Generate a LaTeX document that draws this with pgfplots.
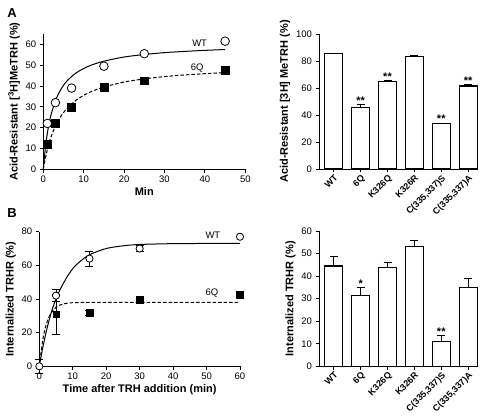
\documentclass[border=0pt]{standalone}
\usepackage{pgfplots}
\pgfplotsset{compat=1.18}
\usepackage{fontspec}
\setmainfont{Liberation Sans}
\pgfplotsset{gp/.style={scale only axis, anchor=south west,
  axis x line*=bottom, axis y line*=left,
  axis line style={line width=0.8pt,-},
  tick style={line width=0.8pt, black},
  tick align=outside, major tick length=3.5pt,
  tick label style={font=\fontsize{9.5}{10}\selectfont},
  label style={font=\bfseries\fontsize{11}{12}\selectfont},
  /pgf/number format/assume math mode=true, clip=false}}
\begin{document}
\begin{tikzpicture}[x=1pt,y=1pt]
\useasboundingbox (0,0) rectangle (480,417);
\node[font=\bfseries\fontsize{13}{14}\selectfont] at (12,404) {A};
\node[font=\bfseries\fontsize{13}{14}\selectfont] at (12,204) {B};

% Top-left
\begin{axis}[gp, at={(43.3pt,247.7pt)}, width=202pt, height=135.4pt,
  xmin=0, xmax=50, ymin=0, ymax=65,
  xtick={0,10,...,50}, ytick={0,10,...,60},
  xlabel={Min}, ylabel={Acid-Resistant [\textsuperscript{3}H]MeTRH (\%)},
  xlabel style={yshift=2pt}, ylabel style={yshift=-1pt}]
\addplot[black, line width=1pt, smooth] coordinates {(0,0) (0.5,10.0) (1,17.2) (1.5,22.6) (2,26.8) (3,32.9) (4,37.2) (5,40.3) (6,42.7) (8,46.1) (10,48.4) (12,50.1) (15,51.9) (20,53.9) (25,55.1) (30,56.0) (35,56.6) (40,57.1) (45,57.5)};
\addplot[black, line width=1pt, smooth, dash pattern=on 3.5pt off 2pt] coordinates {(0,0) (0.5,5.2) (1,9.5) (1.5,13.1) (2,16.0) (3,20.8) (4,24.4) (5,27.2) (6,29.5) (8,33.0) (10,35.5) (12,37.4) (15,39.5) (20,41.9) (25,43.4) (30,44.5) (35,45.3) (40,45.9) (45,46.4)};
\addplot[only marks, mark=*, mark size=4.3pt, mark options={fill=white, draw=black, line width=0.8pt}] coordinates {(1,22) (3,32) (7,39) (15,49.5) (25,55.5) (45,61.5)};
\addplot[only marks, mark=square*, mark size=3.9pt, mark options={fill=black, draw=black}] coordinates {(1,12) (3,22) (7,30) (15,39.5) (25,42.5) (45,47.5)};
\node[font=\fontsize{9.5}{10}\selectfont] at (axis cs:38.7,60.6) {WT};
\node[font=\fontsize{9.5}{10}\selectfont] at (axis cs:38.1,48.5) {6Q};
\end{axis}

% Top-right
\begin{axis}[gp, at={(319pt,248pt)}, width=158pt, height=135pt,
  xmin=-0.55, xmax=5.33, ymin=0, ymax=100,
  ytick={0,20,...,100}, xtick={0,...,5},
  xticklabels={WT,6Q,K326Q,K326R,{C(335,337)S},{C(335,337)A}},
  xticklabel style={rotate=45, anchor=north east, inner sep=1pt, font=\bfseries\fontsize{9}{10}\selectfont},
  ylabel={Acid-Resistant [3H] MeTRH (\%)}, ylabel style={yshift=-1pt}]
\addplot[ybar, bar width=18pt, fill=white, draw=black, line width=1.1pt,
  error bars/.cd, y dir=plus, y explicit, error bar style={line width=0.9pt},
  error mark options={rotate=90, mark size=4pt, line width=0.9pt}]
  coordinates {(0,85.5) +- (0,0.4) (1,45.5) +- (0,2) (2,65) +- (0,0.6) (3,83.5) +- (0,0.5) (4,33.5) +- (0,0.6) (5,61.5) +- (0,1)};
\node[anchor=base, font=\bfseries\fontsize{11}{12}\selectfont] at (axis cs:1,47.5) {**};
\node[anchor=base, font=\bfseries\fontsize{11}{12}\selectfont] at (axis cs:2,65.6) {**};
\node[anchor=base, font=\bfseries\fontsize{11}{12}\selectfont] at (axis cs:4,34.1) {**};
\node[anchor=base, font=\bfseries\fontsize{11}{12}\selectfont] at (axis cs:5,62.5) {**};
\end{axis}

% Bottom-left
\begin{axis}[gp, at={(39.3pt,50.7pt)}, width=200.7pt, height=134.6pt,
  xmin=0, xmax=60, ymin=0, ymax=80,
  xtick={0,10,...,60}, ytick={0,20,...,80},
  xlabel={Time after TRH addition (min)}, ylabel={Internalized TRHR (\%)},
  xlabel style={yshift=2pt}, ylabel style={yshift=-1pt}]
\addplot[black, line width=1pt, smooth] coordinates {(0,0) (1,10.7) (2,19.9) (3,27.9) (4,34.7) (5,40.0) (6,44.8) (8,52.1) (10,58.1) (12,62.0) (15,66.3) (20,70.0) (25,71.6) (30,72.4) (40,72.9) (50,73) (60,73)};
\addplot[black, line width=1pt, smooth, dash pattern=on 3.5pt off 2pt] coordinates {(0,0) (1,15.2) (2,24.3) (3,29.8) (4,33.0) (5,35.0) (6,36.3) (8,37.4) (10,37.8) (15,38) (30,38) (60,38)};
\addplot[only marks, mark=*, mark size=3.6pt, mark options={fill=white, draw=black, line width=0.8pt},
  error bars/.cd, y dir=both, y explicit, error bar style={line width=0.8pt},
  error mark options={rotate=90, mark size=4pt, line width=0.8pt}]
  coordinates {(0,0) +- (0,4) (5,42) +- (0,3.5) (15,64) +- (0,4.5) (30,70) +- (0,2)};
\addplot[only marks, mark=square*, mark size=3.3pt, mark options={fill=black, draw=black},
  error bars/.cd, y dir=both, y explicit, error bar style={line width=0.8pt},
  error mark options={rotate=90, mark size=4pt, line width=0.8pt}]
  coordinates {(5,31) +- (0,12) (15,32) +- (0,1.5) (30,39.5) +- (0,1.5)};
\addplot[only marks, mark=*, mark size=3.6pt, mark options={fill=white, draw=black, line width=0.8pt}] coordinates {(60,77)};
\addplot[only marks, mark=square*, mark size=3.3pt, mark options={fill=black, draw=black}] coordinates {(60,42.4)};
\node[font=\fontsize{9.5}{10}\selectfont] at (axis cs:51.9,78) {WT};
\node[font=\fontsize{9.5}{10}\selectfont] at (axis cs:51.6,43.4) {6Q};
\end{axis}

% Bottom-right
\begin{axis}[gp, at={(319pt,50.7pt)}, width=158pt, height=135.3pt,
  xmin=-0.55, xmax=5.33, ymin=0, ymax=60,
  ytick={0,10,...,60}, xtick={0,...,5},
  xticklabels={WT,6Q,K326Q,K326R,{C(335,337)S},{C(335,337)A}},
  xticklabel style={rotate=45, anchor=north east, inner sep=1pt, font=\bfseries\fontsize{9}{10}\selectfont},
  ylabel={Internalized TRHR (\%)}, ylabel style={yshift=-1pt}]
\addplot[ybar, bar width=18pt, fill=white, draw=black, line width=1.1pt,
  error bars/.cd, y dir=plus, y explicit, error bar style={line width=0.9pt},
  error mark options={rotate=90, mark size=4pt, line width=0.9pt}]
  coordinates {(0,44.5) +- (0,4) (1,31.5) +- (0,3.5) (2,44) +- (0,2) (3,53) +- (0,3) (4,11) +- (0,2.5) (5,35) +- (0,4)};
\node[anchor=base, font=\bfseries\fontsize{11}{12}\selectfont] at (axis cs:1,35) {*};
\node[anchor=base, font=\bfseries\fontsize{11}{12}\selectfont] at (axis cs:4,13.5) {**};
\end{axis}
\end{tikzpicture}
\end{document}
